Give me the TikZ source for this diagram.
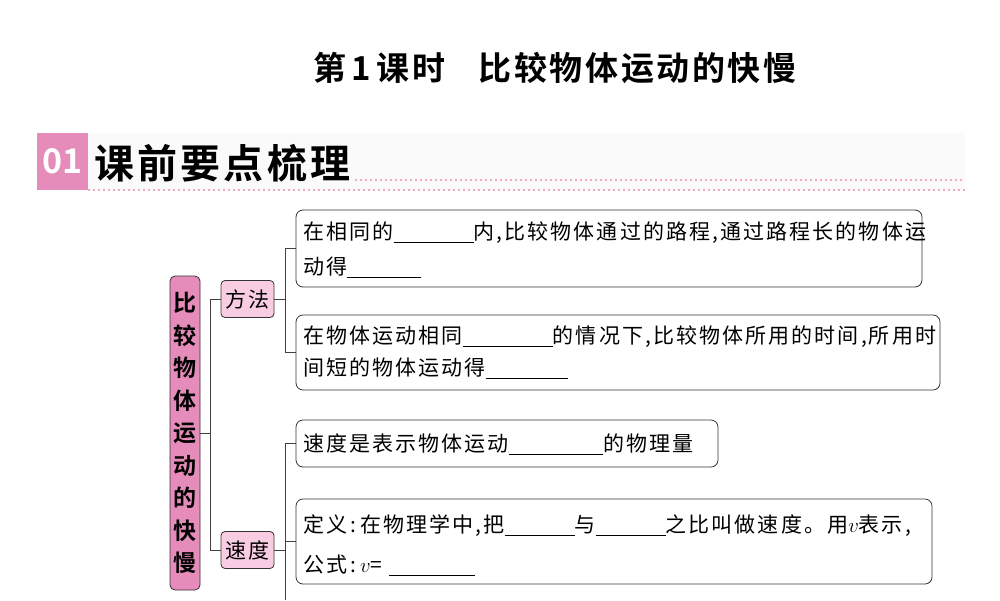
\documentclass[tikz,border=0pt]{standalone}
\usepackage{fontspec}
\newfontfamily\cjk[LetterSpace=10]{Noto Sans CJK SC}
\newfontfamily\cjkb[LetterSpace=8]{Noto Sans CJK SC Bold}
\newfontfamily\cjkbb{Noto Sans CJK SC Bold}
\definecolor{pk}{HTML}{E68CBA}
\definecolor{lpk}{HTML}{F8CDE3}
\definecolor{dot}{HTML}{F0A8C8}
\newcommand{\blank}[1]{\rule[-3pt]{#1pt}{0.7pt}}
\begin{document}
\begin{tikzpicture}[x=1pt,y=-1pt,
  bx/.style={draw=black!80,line width=0.8pt,rounded corners=7pt},
  tx/.style={anchor=west,inner sep=0pt,font=\cjk\fontsize{21}{24}\selectfont},
  tag/.style={draw=black!80,line width=0.8pt,fill=lpk,rounded corners=4pt,minimum width=53pt,minimum height=37pt,inner sep=0pt,font=\cjk\fontsize{21}{24}\selectfont},
  ln/.style={line width=0.8pt,black!75}]
\useasboundingbox (0,0) rectangle (1000,600);
\node[font=\cjkb\fontsize{33}{36}\selectfont] (title) at (555,68) {第\,1\,课时\quad 比较物体运动的快慢};
\fill[black!2] (88,133) rectangle (965,190);
\node[fill=pk,minimum width=51pt,minimum height=57pt,inner sep=0pt,text=white,font=\cjkbb\fontsize{34}{36}\selectfont] (n01) at (62.5,161.5) {01};
\node[anchor=west,inner sep=0pt,font=\cjkb\fontsize{40}{42}\selectfont] (hd) at (94,163) {课前要点梳理};
\draw[dot,line width=1.5pt,dash pattern=on 2pt off 3pt] (88,190) -- (965,190);
\draw[dot,line width=1.5pt,dash pattern=on 2pt off 3pt] (355,180) -- (965,180);
% main
\node[draw=black!80,line width=0.8pt,fill=pk,rounded corners=5pt,minimum width=30pt,minimum height=314pt,inner sep=0pt,align=center,font=\cjkbb\fontsize{23}{32.5}\selectfont] (main) at (185,433) {比\\较\\物\\体\\运\\动\\的\\快\\慢};
\node[tag] (ff) at (247.5,299) {方法};
\node[tag] (sd) at (247.5,550) {速度};
\draw[ln] (main.east) -- (210,433);
\draw[ln] (ff.west) -- (210,299) -- (210,550) -- (sd.west);
% boxes
\node[bx,minimum width=626pt,minimum height=77pt] (b1) at (609,248.5) {};
\node[bx,minimum width=644pt,minimum height=75pt] (b2) at (618,352.5) {};
\node[bx,minimum width=422pt,minimum height=47pt] (b3) at (507,443.5) {};
\node[bx,minimum width=636pt,minimum height=85pt] (b4) at (614,541.5) {};
\draw[ln] (ff.east) -- (285,299);
\draw[ln] (b1.west) -- (285,248.5) -- (285,352.5) -- (b2.west);
\draw[ln] (sd.east) -- (285,550);
\draw[ln] (b3.west) -- (285,443.5) -- (285,600);
\draw[ln] (b4.west) -- (285,541.5);
% texts
\node[tx] (t1a) at (303,233) {在相同的\blank{80}内,比较物体通过的路程,通过路程长的物体运};
\node[tx] (t1b) at (303,267) {动得\blank{74}};
\node[tx] (t2a) at (303,337) {在物体运动相同\blank{90}的情况下,比较物体所用的时间,所用时};
\node[tx] (t2b) at (303,368) {间短的物体运动得\blank{82}};
\node[tx] (t3) at (303,444) {速度是表示物体运动\blank{94}的物理量};
\node[tx] (t4a) at (303,526) {定义\,:\,在物理学中,把\blank{70}与\blank{70}之比叫做速度。用$v$表示,};
\node[tx] (t4b) at (303,565) {公式\,:\,$v$=\ \blank{86}};
\end{tikzpicture}
\end{document}
